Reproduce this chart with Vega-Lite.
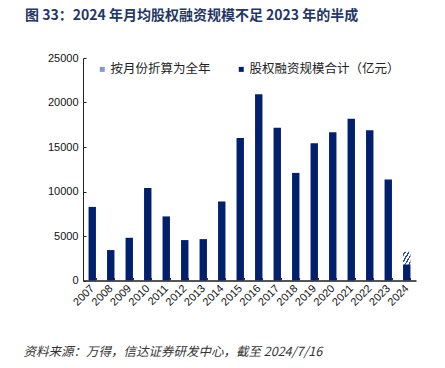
{
  "$schema": "https://vega.github.io/schema/vega-lite/v6.json",
  "width": 409,
  "height": 303,
  "autosize": "none",
  "padding": {"left": 23, "top": 33, "right": 13, "bottom": 32},
  "background": "white",
  "config": {"view": {"stroke": null}},
  "title": {
    "text": "图 33：2024 年月均股权融资规模不足 2023 年的半成",
    "anchor": "start",
    "frame": "group",
    "dx": 2,
    "offset": 10,
    "font": "Noto Sans CJK SC",
    "fontSize": 14,
    "fontWeight": "bold",
    "color": "#233766"
  },
  "layer": [
    {
      "data": {
        "values": [
          {"year": "2007", "v": 8270, "s": "股权融资规模合计（亿元）", "o": 0},
          {"year": "2008", "v": 3420, "s": "股权融资规模合计（亿元）", "o": 0},
          {"year": "2009", "v": 4800, "s": "股权融资规模合计（亿元）", "o": 0},
          {"year": "2010", "v": 10400, "s": "股权融资规模合计（亿元）", "o": 0},
          {"year": "2011", "v": 7200, "s": "股权融资规模合计（亿元）", "o": 0},
          {"year": "2012", "v": 4540, "s": "股权融资规模合计（亿元）", "o": 0},
          {"year": "2013", "v": 4650, "s": "股权融资规模合计（亿元）", "o": 0},
          {"year": "2014", "v": 8880, "s": "股权融资规模合计（亿元）", "o": 0},
          {"year": "2015", "v": 16000, "s": "股权融资规模合计（亿元）", "o": 0},
          {"year": "2016", "v": 20940, "s": "股权融资规模合计（亿元）", "o": 0},
          {"year": "2017", "v": 17170, "s": "股权融资规模合计（亿元）", "o": 0},
          {"year": "2018", "v": 12090, "s": "股权融资规模合计（亿元）", "o": 0},
          {"year": "2019", "v": 15410, "s": "股权融资规模合计（亿元）", "o": 0},
          {"year": "2020", "v": 16650, "s": "股权融资规模合计（亿元）", "o": 0},
          {"year": "2021", "v": 18180, "s": "股权融资规模合计（亿元）", "o": 0},
          {"year": "2022", "v": 16870, "s": "股权融资规模合计（亿元）", "o": 0},
          {"year": "2023", "v": 11350, "s": "股权融资规模合计（亿元）", "o": 0},
          {"year": "2024", "v": 1820, "s": "股权融资规模合计（亿元）", "o": 0},
          {"year": "2024", "v": 1410, "s": "按月份折算为全年", "o": 1}
        ]
      },
      "mark": {"type": "bar"},
      "encoding": {
        "x": {
          "field": "year",
          "type": "ordinal",
          "scale": {"range": [60, 393], "paddingInner": 0.6, "paddingOuter": 0.3},
          "axis": {
            "orient": "bottom",
            "offset": -55.5,
            "tickBand": "extent",
            "tickSize": -3,
            "tickColor": "#333333",
            "domainColor": "#555555",
            "domainWidth": 2,
            "labelAngle": -45,
            "labelAlign": "right",
            "labelBaseline": "middle",
            "labelPadding": 9,
            "labelFont": "Liberation Sans",
            "labelFontSize": 11,
            "labelColor": "#111111",
            "title": "资料来源：万得，信达证券研发中心，截至 2024/7/16",
            "titleX": 0,
            "titleY": 70.5,
            "titleAlign": "left",
            "titleBaseline": "middle",
            "titleFont": "Noto Sans CJK SC",
            "titleFontSize": 12.5,
            "titleFontWeight": "normal",
            "titleFontStyle": "italic",
            "titleColor": "#333333"
          }
        },
        "y": {
          "field": "v",
          "type": "quantitative",
          "stack": "zero",
          "scale": {"domain": [0, 25000], "range": [247.5, 25], "nice": false},
          "axis": {
            "orient": "left",
            "offset": -60,
            "values": [0, 5000, 10000, 15000, 20000, 25000],
            "format": "d",
            "grid": false,
            "tickSize": -3,
            "tickColor": "#222222",
            "domainColor": "#222222",
            "labelPadding": 8,
            "labelFont": "Liberation Sans",
            "labelFontSize": 11,
            "labelColor": "#111111",
            "title": null
          }
        },
        "order": {"field": "o", "type": "quantitative"},
        "color": {
          "condition": {
            "test": "datum.o === 1",
            "value": {
              "gradient": "linear",
              "x1": 0, "y1": 0, "x2": 1, "y2": 1,
              "stops": [
                {"offset": 0, "color": "#ffffff"},
                {"offset": 0.1, "color": "#ffffff"},
                {"offset": 0.1, "color": "#2a4aa8"},
                {"offset": 0.2, "color": "#2a4aa8"},
                {"offset": 0.2, "color": "#ffffff"},
                {"offset": 0.35, "color": "#ffffff"},
                {"offset": 0.35, "color": "#2a4aa8"},
                {"offset": 0.45, "color": "#2a4aa8"},
                {"offset": 0.45, "color": "#ffffff"},
                {"offset": 0.6, "color": "#ffffff"},
                {"offset": 0.6, "color": "#2a4aa8"},
                {"offset": 0.7, "color": "#2a4aa8"},
                {"offset": 0.7, "color": "#ffffff"},
                {"offset": 0.85, "color": "#ffffff"},
                {"offset": 0.85, "color": "#2a4aa8"},
                {"offset": 0.95, "color": "#2a4aa8"},
                {"offset": 0.95, "color": "#ffffff"},
                {"offset": 1, "color": "#ffffff"}
              ]
            }
          },
          "field": "s",
          "type": "nominal",
          "scale": {
            "domain": ["按月份折算为全年", "股权融资规模合计（亿元）"],
            "range": ["#8796d4", "#00206e"]
          },
          "legend": {
            "orient": "none",
            "legendX": 73,
            "legendY": 30,
            "direction": "horizontal",
            "title": null,
            "symbolType": "square",
            "symbolSize": 25,
            "symbolStrokeWidth": 0,
            "labelOffset": 2,
            "columnPadding": 24,
            "labelFont": "Noto Sans CJK SC",
            "labelFontSize": 12.5,
            "labelColor": "#222222",
            "labelLimit": 300,
            "padding": 0
          }
        }
      }
    },
    {
      "mark": {"type": "rule", "color": "#505050", "strokeWidth": 1.5},
      "encoding": {"y": {"datum": 27809, "type": "quantitative"}}
    },
    {
      "mark": {"type": "rule", "color": "#505050", "strokeWidth": 1.5},
      "encoding": {"y": {"datum": -6236, "type": "quantitative"}}
    }
  ]
}
